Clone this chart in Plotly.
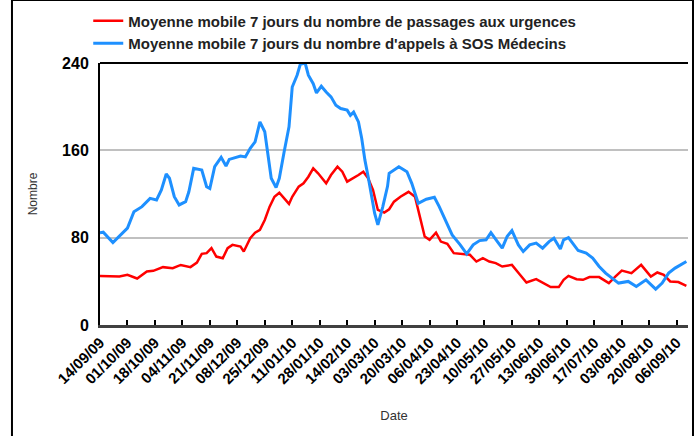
import pandas as pd
import plotly.graph_objects as go

# Moyenne mobile 7 jours - passages aux urgences (rouge)
urg_dates = [
    "2009-09-14", "2009-09-20", "2009-09-26", "2009-10-01", "2009-10-07", "2009-10-13",
    "2009-10-17", "2009-10-23", "2009-10-29", "2009-11-03", "2009-11-09", "2009-11-13",
    "2009-11-16", "2009-11-19", "2009-11-22", "2009-11-25", "2009-11-29", "2009-12-02",
    "2009-12-05", "2009-12-10", "2009-12-12", "2009-12-16", "2009-12-19", "2009-12-22",
    "2009-12-25", "2009-12-28", "2009-12-31", "2010-01-03", "2010-01-06", "2010-01-09",
    "2010-01-11", "2010-01-15", "2010-01-18", "2010-01-21", "2010-01-24", "2010-01-27",
    "2010-02-01", "2010-02-04", "2010-02-08", "2010-02-11", "2010-02-14", "2010-02-18",
    "2010-02-21", "2010-02-24", "2010-02-27", "2010-03-02", "2010-03-05", "2010-03-09",
    "2010-03-12", "2010-03-15", "2010-03-19", "2010-03-24", "2010-03-28", "2010-03-31",
    "2010-04-03", "2010-04-06", "2010-04-10", "2010-04-13", "2010-04-17", "2010-04-21",
    "2010-04-26", "2010-05-01", "2010-05-05", "2010-05-09", "2010-05-13", "2010-05-17",
    "2010-05-21", "2010-05-27", "2010-06-01", "2010-06-05", "2010-06-11", "2010-06-15",
    "2010-06-20", "2010-06-25", "2010-06-28", "2010-07-01", "2010-07-06", "2010-07-10",
    "2010-07-14", "2010-07-20", "2010-07-26", "2010-07-30", "2010-08-03", "2010-08-09",
    "2010-08-15", "2010-08-21", "2010-08-25", "2010-08-29", "2010-09-02", "2010-09-07",
    "2010-09-12",
]
urg_values = [
    45, 45, 44.5, 46, 42.6, 49,
    49.6, 53, 52, 55, 53, 57.2,
    65.2, 65.8, 70.4, 62.7, 61.2, 70.4,
    73.4, 71.8, 67.3, 79.5, 84.6, 87.1,
    96.2, 108.4, 117.5, 121.2, 116, 110.9,
    117.5, 126.7, 129.8, 135.8, 143.5, 139,
    129.8, 137.4, 145, 140.4, 131.3, 134.4,
    137.4, 140.4, 134.4, 123.7, 105.4, 103,
    106, 113, 117.5, 122, 117.5, 99.3,
    81, 78, 84.6, 76.4, 74.3, 65.8,
    65.2, 64.3, 58.1, 61.2, 58.1, 56.7,
    53.6, 55.1, 46, 38.9, 42, 38.4,
    34.7, 34.7, 41.4, 45, 42, 41.4,
    43.9, 43.9, 38.4, 44.4, 49.9, 47.5,
    55.1, 44.4, 48.1, 46, 39.9, 39.3,
    35.9,
]

# Moyenne mobile 7 jours - appels a SOS Medecins (bleu)
sos_dates = [
    "2009-09-14", "2009-09-16", "2009-09-22", "2009-09-27", "2009-10-01", "2009-10-05",
    "2009-10-10", "2009-10-15", "2009-10-19", "2009-10-22", "2009-10-25", "2009-10-27",
    "2009-10-30", "2009-11-02", "2009-11-06", "2009-11-08", "2009-11-11", "2009-11-16",
    "2009-11-19", "2009-11-21", "2009-11-24", "2009-11-28", "2009-12-01", "2009-12-03",
    "2009-12-10", "2009-12-13", "2009-12-16", "2009-12-19", "2009-12-22", "2009-12-25",
    "2009-12-27", "2009-12-29", "2010-01-01", "2010-01-03", "2010-01-06", "2010-01-09",
    "2010-01-11", "2010-01-14", "2010-01-16", "2010-01-19", "2010-01-21", "2010-01-24",
    "2010-01-26", "2010-01-29", "2010-02-01", "2010-02-04", "2010-02-07", "2010-02-10",
    "2010-02-14", "2010-02-16", "2010-02-18", "2010-02-21", "2010-02-23", "2010-02-25",
    "2010-02-27", "2010-03-01", "2010-03-03", "2010-03-05", "2010-03-08", "2010-03-11",
    "2010-03-12", "2010-03-18", "2010-03-23", "2010-03-26", "2010-03-30", "2010-04-04",
    "2010-04-09", "2010-04-12", "2010-04-16", "2010-04-20", "2010-04-25", "2010-04-29",
    "2010-05-03", "2010-05-07", "2010-05-11", "2010-05-14", "2010-05-18", "2010-05-21",
    "2010-05-24", "2010-05-27", "2010-05-31", "2010-06-03", "2010-06-07", "2010-06-11",
    "2010-06-15", "2010-06-19", "2010-06-22", "2010-06-26", "2010-06-28", "2010-07-01",
    "2010-07-07", "2010-07-12", "2010-07-16", "2010-07-20", "2010-07-24", "2010-07-28",
    "2010-08-01", "2010-08-07", "2010-08-12", "2010-08-18", "2010-08-24", "2010-08-28",
    "2010-09-01", "2010-09-05", "2010-09-09", "2010-09-12",
]
sos_values = [
    84.6, 85, 75.5, 82.5, 88.7, 103.8,
    108.4, 116, 114.5, 123.7, 138.3, 134.4,
    117.5, 110, 113, 122, 143.5, 142,
    126.7, 125, 145, 153.6, 145.6, 151.7,
    154.8, 154, 161.8, 167.8, 186, 177,
    157, 134.4, 126, 134.4, 158.7, 181.5,
    218, 228.8, 238.8, 240, 228.8, 221,
    212.6, 218.7, 213.5, 209, 201.4, 198.3,
    196.8, 192, 195, 186, 171, 151,
    135.8, 117.5, 102.4, 91.7, 108, 127,
    139, 145, 140.4, 129.8, 111.5, 115.2,
    117, 108.4, 94.7, 82.5, 73.4, 65.2,
    73.4, 77.3, 78, 84.6, 76.4, 70.4,
    81, 86.5, 73.4, 67.3, 73.4, 75,
    70.4, 76.4, 79.5, 69.7, 78, 80,
    68.2, 65.8, 61.2, 53.6, 47.5, 43,
    38.4, 39.9, 35.3, 41.4, 32.9, 38.4,
    47.5, 52.1, 55.1, 58.1,
]

# Ticks every 17 days
tick_dates = pd.date_range("2009-09-14", "2010-09-06", freq="17D")
tick_labels = [d.strftime("%d/%m/%y") for d in tick_dates]
y_ticks = [0, 80, 160, 240]

fig = go.Figure()
fig.add_trace(go.Scatter(
    x=pd.to_datetime(urg_dates), y=urg_values, mode="lines",
    name="Moyenne mobile 7 jours du nombre de passages aux urgences",
    line=dict(color="#ff0000", width=2.5),
))
fig.add_trace(go.Scatter(
    x=pd.to_datetime(sos_dates), y=sos_values, mode="lines",
    name="Moyenne mobile 7 jours du nombre d'appels à SOS Médecins",
    line=dict(color="#1e90ff", width=3),
))

fig.update_layout(
    width=700, height=436,
    margin=dict(l=100, r=12, t=63, b=111, autoexpand=False),
    paper_bgcolor="white",
    plot_bgcolor="white",
    font=dict(family="Liberation Sans, Arial, sans-serif", color="#222"),
    showlegend=True,
    legend=dict(
        x=-0.02, y=1.223, xanchor="left", yanchor="top",
        font=dict(size=15, color="#222", weight="bold"),
        itemwidth=30, tracegroupgap=0,
        bgcolor="rgba(0,0,0,0)",
    ),
    xaxis=dict(
        range=[pd.Timestamp("2009-09-14"), pd.Timestamp("2010-09-13")],
        tickvals=tick_dates, ticktext=tick_labels, tickangle=-45,
        tickfont=dict(size=15, color="black", weight="bold"),
        showgrid=False, zeroline=False, automargin=False,
        showline=True, linecolor="#404040", linewidth=3,
        ticks="inside", ticklen=5, tickcolor="black", tickwidth=1.5,
        title=dict(text="Date", font=dict(size=13, color="#333"), standoff=25),
    ),
    yaxis=dict(
        range=[0, 240], tickvals=y_ticks,
        tickfont=dict(size=16, color="black", weight="bold"),
        showgrid=True, gridcolor="#c0c0c0", gridwidth=2,
        zeroline=False, automargin=False,
        showline=True, linecolor="black", linewidth=2,
        ticks="", ticklabelstandoff=6,
        title=dict(text="Nombre", font=dict(size=12, color="#333"), standoff=22),
    ),
    shapes=[
        dict(type="line", xref="paper", yref="paper", x0=0, x1=1, y0=1, y1=1,
             line=dict(color="black", width=2)),
        dict(type="rect", xref="paper", yref="paper",
             x0=-0.1497, x1=1.0085, y0=-0.43, y1=1.2405,
             line=dict(color="black", width=2), layer="above"),
    ],
)

fig.write_html(
    "out.html",
    config={"displayModeBar": False},
    post_script="document.body.style.margin = '0';",
)
